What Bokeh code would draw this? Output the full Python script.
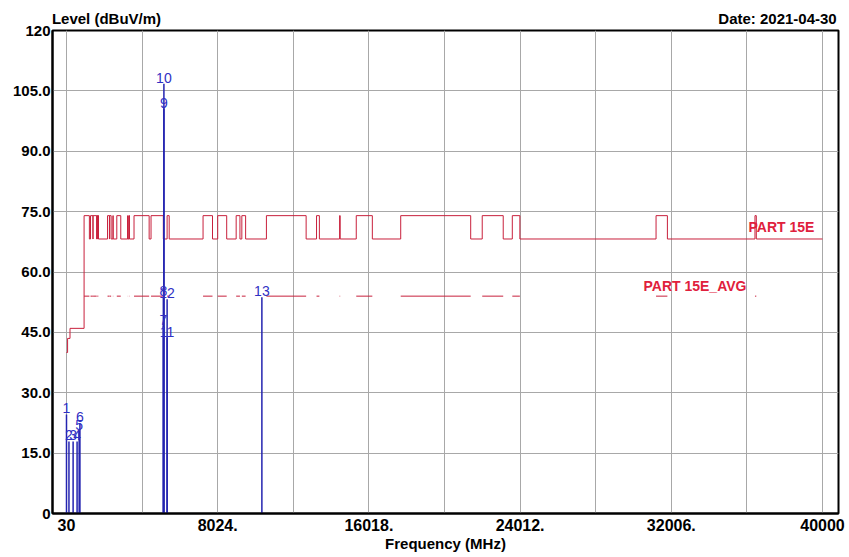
from bokeh.plotting import figure
from bokeh.models import ColumnDataSource, Range1d, FixedTicker, Label, LabelSet, LinearAxis
from bokeh.core.properties import value
from bokeh.embed import file_html
from bokeh.resources import INLINE

# ---------------- data ----------------
# FCC 15.209 limits below 960 MHz (dBuV/m)
low_edges = [30, 88, 216, 960]
low_levels = [40.0, 43.5, 46.0]
# restricted bands (MHz) drawn at the peak limit; elsewhere the out-of-band limit applies
restricted_bands = [
    (960, 1240), (1300, 1427), (1435, 1626.5), (1645.5, 1646.5), (1660, 1710),
    (1718.8, 1722.2), (2200, 2300), (2310, 2390), (2483.5, 2500), (2690, 2900),
    (3260, 3267), (3332, 3339), (3345.8, 3358), (3600, 4400), (4500, 5150),
    (5350, 5460), (7250, 7750), (8025, 8500), (9000, 9200), (9300, 9500),
    (10600, 12700), (13250, 13400), (14470, 14500), (15350, 16200),
    (17700, 21400), (22010, 23120), (23600, 24000), (31200, 31800), (36430, 36500),
]
peak_limit = 74.0
out_band_limit = 68.2
avg_limit = 54.0
f_stop = 40000

marker_ids = ["1", "2", "3", "4", "5", "6", "7", "8", "9", "10", "11", "12", "13"]
marker_freq = [30, 160, 380, 590, 700, 740, 5150, 5150, 5180, 5180, 5350, 5350, 10360]
marker_level = [24.6, 17.9, 17.9, 17.9, 20.6, 22.4, 46.7, 53.7, 100.6, 106.8, 43.7, 53.2, 53.7]

x_tick_values = [30, 8024, 16018, 24012, 32006, 40000]
x_tick_labels = ["30", "8024.", "16018.", "24012.", "32006.", "40000"]
y_tick_values = [0, 15, 30, 45, 60, 75, 90, 105, 120]
y_tick_labels = ["0", "15.0", "30.0", "45.0", "60.0", "75.0", "90.0", "105.0", "120"]
x_grid_step = 3997

header_texts = ["Level (dBuV/m)", "Date: 2021-04-30"]

# ---------------- build limit lines ----------------
lim_x, lim_y = [], []
for i, lev in enumerate(low_levels):
    lim_x += [low_edges[i], low_edges[i + 1]]
    lim_y += [lev, lev]
prev = low_edges[-1]
for a, b in restricted_bands:
    if a > prev:
        lim_x += [prev, a]
        lim_y += [out_band_limit, out_band_limit]
    lim_x += [a, b]
    lim_y += [peak_limit, peak_limit]
    prev = b
lim_x += [prev, f_stop]
lim_y += [out_band_limit, out_band_limit]

avg_xs = [[a, b] for a, b in restricted_bands]
avg_ys = [[avg_limit, avg_limit] for _ in restricted_bands]

FONT = "Liberation Sans"
RED_LINE = "#c8203c"
RED_TEXT = "#e0203c"
BLUE = "#2424b0"

p = figure(width=849, height=557, x_range=Range1d(-710, 40846), y_range=Range1d(0, 120),
           output_backend="svg", toolbar_location=None,
           min_border_left=52, min_border_right=11, min_border_top=30, min_border_bottom=44)
p.background_fill_color = "white"
p.border_fill_color = "white"
p.outline_line_color = "black"
p.outline_line_width = 2

# grids
p.xgrid.ticker = FixedTicker(ticks=[30 + x_grid_step * i for i in range(11)])
p.ygrid.ticker = FixedTicker(ticks=y_tick_values)
for g in (p.xgrid, p.ygrid):
    g.grid_line_color = "#a8a8a8"
    g.grid_line_width = 1

# axes
p.xaxis.ticker = FixedTicker(ticks=x_tick_values)
p.xaxis.major_label_overrides = {v: s for v, s in zip(x_tick_values, x_tick_labels)}
p.yaxis.ticker = FixedTicker(ticks=y_tick_values)
p.yaxis.major_label_overrides = {v: s for v, s in zip(y_tick_values, y_tick_labels)}
for ax in (p.xaxis, p.yaxis):
    ax.axis_line_color = "black"
    ax.axis_line_width = 2
    ax.major_tick_out = 0
    ax.major_tick_in = 0
    ax.minor_tick_out = 0
    ax.minor_tick_in = 0
    ax.major_label_text_font = FONT
    ax.major_label_text_font_style = "bold"
    ax.major_label_text_color = "black"
p.xaxis.major_label_text_font_size = "16px"
p.yaxis.major_label_text_font_size = "15px"
p.xaxis.major_label_standoff = 5
p.yaxis.major_label_standoff = 2
p.xaxis.axis_label = "Frequency (MHz)"
p.xaxis.axis_label_text_font = FONT
p.xaxis.axis_label_text_font_style = "bold"
p.xaxis.axis_label_text_font_size = "15px"
p.xaxis.axis_label_text_color = "black"
p.xaxis.axis_label_standoff = 1

# header texts ("Level" at left, date at right) carried by an unlined axis above the frame
header_pos = [2145, 37621]
top_axis = LinearAxis(ticker=FixedTicker(ticks=header_pos),
                      major_label_overrides={v: s for v, s in zip(header_pos, header_texts)})
top_axis.axis_line_color = None
top_axis.major_tick_line_color = None
top_axis.minor_tick_line_color = None
top_axis.major_tick_out = 0
top_axis.major_tick_in = 0
top_axis.major_label_text_font = FONT
top_axis.major_label_text_font_style = "bold"
top_axis.major_label_text_font_size = "15px"
top_axis.major_label_text_color = "black"
top_axis.major_label_standoff = 4
p.add_layout(top_axis, "above")

# limit lines
p.line(lim_x, lim_y, line_color=RED_LINE, line_width=1)
p.multi_line(avg_xs, avg_ys, line_color=RED_LINE, line_width=1)

# markers
msrc = ColumnDataSource(dict(f=marker_freq, lev=marker_level, zero=[0] * len(marker_freq), lab=marker_ids))
p.segment(x0="f", y0="zero", x1="f", y1="lev", source=msrc, line_color=BLUE, line_width=1.5)
p.add_layout(LabelSet(x="f", y="lev", text="lab", source=msrc, text_align="center",
                      text_baseline="bottom", y_offset=1, text_font=value(FONT),
                      text_font_size=value("14px"), text_color="#3030c4"))

# limit labels
p.add_layout(Label(x=36087, y=71.1, text="PART 15E", text_align="left", text_baseline="middle",
                   text_font=FONT, text_font_style="bold", text_font_size="14px", text_color=RED_TEXT))
p.add_layout(Label(x=30536, y=56.4, text="PART 15E_AVG", text_align="left", text_baseline="middle",
                   text_font=FONT, text_font_style="bold", text_font_size="14px", text_color=RED_TEXT))

open("out.html", "w").write(file_html(p, INLINE))
